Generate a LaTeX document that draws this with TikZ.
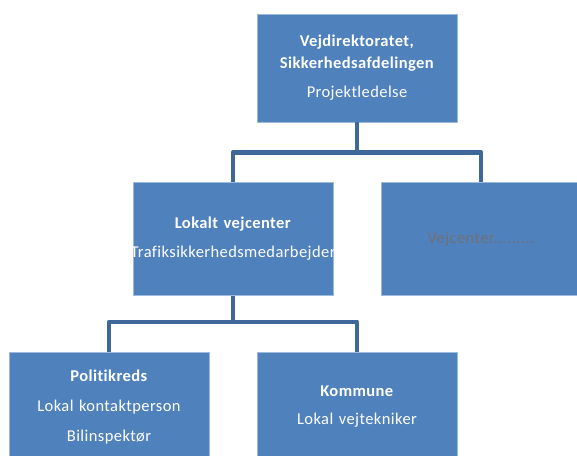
\documentclass[tikz,border=0pt]{standalone}
\usepackage{fontspec}
\setmainfont{Carlito}[LetterSpace=2.5,Ligatures=NoCommon]
\definecolor{boxblue}{RGB}{79,129,189}
\definecolor{linkblue}{RGB}{62,104,154}
\definecolor{dimgrey}{RGB}{112,112,120}
\tikzset{
  orgbox/.style={rectangle, fill=boxblue, draw=boxblue!55!white, line width=0.6pt,
    text=white, align=center, inner sep=0pt, minimum width=200pt,
    text width=196pt, font=\fontsize{16.5}{22}\selectfont},
  orglink/.style={draw=linkblue, line width=4.5pt, line join=round}
}
\begin{document}
\begin{tikzpicture}[x=1pt,y=-1pt]
        \useasboundingbox (0,0) rectangle (577,455);
        \clip (0,0) rectangle (577,455);
        %% Boxes
        \node[orgbox, minimum height=108pt] (vd) at (357,68)
            {\textbf{Vejdirektoratet,}\\\textbf{Sikkerhedsafdelingen}\\[7pt]Projektledelse};
        \node[orgbox, minimum height=113pt] (lvc) at (233,239)
            {\textbf{Lokalt vejcenter}\\[7pt]\makebox[196pt]{Trafiksikkerhedsmedarbejder}};
        \node[orgbox, minimum height=113pt, text=dimgrey] (vc) at (481,239)
            {Vejcenter.........};
        \node[orgbox, minimum height=110pt] (pk) at (109,407)
            {\textbf{Politikreds}\\[8pt]Lokal kontaktperson\\[8pt]Bilinspektør};
        \node[orgbox, minimum height=110pt] (km) at (357,407)
            {\textbf{Kommune}\\[6pt]Lokal vejtekniker};
        %% Connectors
        \draw[orglink] (vd.south) -- ++(0,30) coordinate (vdjoin)
            -| (lvc.north);
        \draw[orglink] (vdjoin) -| (vc.north);
        \draw[orglink] (lvc.south) -- ++(0,26) coordinate (lvcjoin)
            -| (pk.north);
        \draw[orglink] (lvcjoin) -| (km.north);
    \end{tikzpicture}
\end{document}
